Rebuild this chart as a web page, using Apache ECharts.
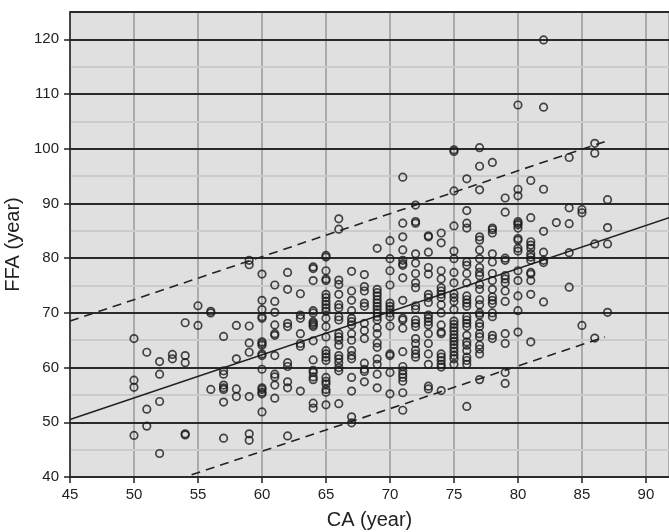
<!DOCTYPE html>
<html>
<head>
<meta charset="utf-8">
<script src="https://cdn.jsdelivr.net/npm/echarts@6/dist/echarts.min.js"></script>
<style>
  html, body { margin: 0; padding: 0; background: #fff; }
  #main { width: 669px; height: 532px; }
</style>
</head>
<body>
<div id="main"></div>
<script>
// CA (chronological age) columns and the FFA values read for each
const ca = [50, 51, 52, 53, 54, 55, 56, 57, 58, 59, 60, 61, 62, 63, 64, 65, 66, 67, 68, 69,
  70, 71, 72, 73, 74, 75, 76, 77, 78, 79, 80, 81, 82, 83, 84, 85, 86, 87];
const ffa = [
  [65.3, 57.7, 56.4, 47.6],
  [62.8, 52.4, 49.3],
  [61.1, 58.8, 53.8, 44.3],
  [62.4, 61.6],
  [68.2, 62.2, 60.9, 47.9, 47.7],
  [71.3, 67.7],
  [70.3, 70.0, 56.0],
  [65.7, 59.4, 58.8, 56.8, 56.3, 56.0, 53.7, 47.1],
  [67.7, 61.6, 56.1, 54.7],
  [79.6, 78.8, 67.6, 64.5, 62.8, 54.7, 47.9, 46.7],
  [77.1, 72.3, 70.6, 69.3, 69.0, 64.7, 64.4, 64.1, 62.5, 62.2, 59.7, 56.3, 56.0, 55.5, 55.2, 51.9],
  [75.1, 72.1, 70.1, 67.8, 66.2, 65.9, 62.2, 58.8, 58.3, 56.8, 54.4],
  [77.4, 74.3, 68.1, 67.5, 60.9, 60.2, 57.4, 56.3, 47.5],
  [73.5, 69.6, 69.0, 66.2, 64.4, 63.9, 55.7],
  [78.4, 78.1, 75.9, 70.4, 70.0, 68.4, 68.1, 67.8, 67.5, 64.9, 61.4, 59.5, 59.1, 58.3, 57.8, 53.5, 52.6],
  [80.5, 80.2, 77.7, 76.2, 75.9, 73.4, 72.8, 72.1, 71.5, 70.9, 70.3, 69.0, 67.5, 65.6, 63.1, 62.5, 61.9, 61.3, 58.2, 57.5, 57.0, 56.0, 55.5, 53.2],
  [87.2, 85.3, 76.0, 75.2, 73.4, 71.5, 70.9, 69.3, 68.7, 66.2, 65.6, 65.0, 64.1, 62.2, 61.6, 60.9, 60.0, 59.4, 53.4],
  [77.6, 74.0, 72.3, 70.4, 69.0, 68.4, 67.8, 66.2, 65.0, 63.1, 62.2, 61.6, 58.2, 55.7, 51.0, 49.9],
  [77.0, 74.8, 74.0, 71.8, 71.2, 68.1, 66.8, 65.3, 60.8, 59.7, 59.3, 57.4],
  [81.8, 74.3, 73.7, 73.1, 72.4, 71.8, 71.2, 70.6, 70.0, 69.3, 68.7, 67.3, 66.2, 64.5, 63.7, 61.6, 60.6, 58.8, 56.3],
  [83.2, 79.9, 77.7, 75.1, 71.8, 71.2, 70.6, 70.0, 69.3, 67.6, 62.5, 62.2, 59.1, 55.2],
  [94.8, 86.4, 83.9, 81.5, 79.6, 79.0, 78.7, 76.4, 72.3, 69.0, 68.7, 67.2, 62.9, 60.2, 59.4, 58.8, 58.2, 57.5, 55.4, 52.2],
  [89.7, 86.7, 86.4, 80.8, 79.1, 77.2, 75.5, 74.6, 71.3, 70.7, 68.7, 68.1, 67.5, 65.3, 64.4, 63.2, 62.5, 61.9],
  [84.1, 83.9, 81.1, 78.3, 77.1, 73.4, 72.8, 71.9, 69.6, 69.0, 68.4, 67.8, 66.2, 64.4, 62.5, 60.6, 56.6, 56.1],
  [84.6, 82.8, 77.7, 76.2, 74.6, 74.0, 73.4, 72.8, 71.5, 70.0, 67.8, 66.5, 66.2, 62.5, 61.9, 61.3, 60.6, 60.1, 55.8],
  [99.8, 99.5, 92.3, 85.9, 81.3, 79.9, 77.4, 75.5, 73.5, 72.8, 72.1, 70.6, 68.5, 67.9, 67.3, 66.7, 66.0, 65.4, 64.8, 64.2, 63.6, 62.9, 62.2, 61.6, 60.6],
  [94.5, 88.7, 86.4, 85.5, 79.3, 78.7, 77.2, 75.5, 73.1, 72.4, 71.8, 71.2, 69.3, 68.7, 68.1, 67.5, 65.9, 64.7, 64.1, 63.1, 61.9, 61.3, 60.6, 52.9],
  [100.2, 96.8, 92.5, 83.9, 83.3, 81.5, 79.9, 78.3, 77.4, 76.8, 75.2, 74.3, 72.4, 71.5, 70.0, 69.6, 68.1, 67.5, 66.2, 65.6, 64.1, 63.4, 62.5, 57.8],
  [97.5, 85.5, 85.2, 84.6, 80.8, 79.3, 77.2, 75.9, 74.3, 72.9, 72.3, 71.7, 70.0, 69.3, 65.9, 65.3],
  [91.0, 88.4, 80.0, 79.6, 76.8, 76.2, 75.5, 74.0, 72.1, 66.2, 64.4, 59.1, 57.1],
  [108.0, 92.6, 91.4, 86.7, 86.4, 86.1, 85.5, 83.6, 83.3, 81.8, 81.3, 77.7, 75.9, 73.1, 70.4, 66.5],
  [94.2, 87.4, 83.0, 82.4, 81.8, 80.8, 80.2, 79.6, 77.4, 77.1, 75.9, 73.4, 64.7],
  [119.9, 107.6, 92.6, 84.9, 81.1, 79.6, 79.2, 72.0],
  [86.5],
  [98.4, 89.2, 86.3, 81.0, 74.7],
  [88.9, 88.3, 67.7],
  [101.0, 99.2, 82.6, 65.4],
  [90.7, 85.6, 82.6, 70.1]
];

// regression line and prediction bounds (end points)
const fitX = [45, 91.8];
const fitY = [50.5, 87.4];
const upperX = [45, 86.9];
const upperY = [68.5, 101.4];
const lowerX = [54.5, 86.8];
const lowerY = [40.4, 65.6];

var points = [];
ca.forEach(function (age, i) {
  ffa[i].forEach(function (v) {
    points.push([age, v]);
  });
});

function pairs(xs, ys) {
  return xs.map(function (x, i) { return [x, ys[i]]; });
}

var chart = echarts.init(document.getElementById('main'));
var font = 'Liberation Sans, Arial, sans-serif';

var option = {
  backgroundColor: '#fff',
  animation: false,
  grid: {
    left: 70, top: 12, right: 0, bottom: 55,
    show: true,
    backgroundColor: '#e0e0e0',
    borderColor: '#2a2a2a',
    borderWidth: 1.5,
    outerBoundsMode: 'none'
  },
  xAxis: {
    type: 'value',
    min: 45, max: 91.8, interval: 5,
    name: 'CA (year)',
    nameLocation: 'middle',
    nameGap: 33,
    nameTextStyle: { fontFamily: font, fontSize: 20, color: '#222' },
    axisLine: { show: true, lineStyle: { color: '#222', width: 1.5 } },
    axisTick: { show: true, length: 6, lineStyle: { color: '#222', width: 1.5 } },
    axisLabel: { fontFamily: font, fontSize: 15, color: '#222', margin: 10, showMaxLabel: false },
    splitLine: { show: true, lineStyle: { color: '#ababab', width: 2 } }
  },
  yAxis: [{
    type: 'value',
    min: 40, max: 125, interval: 10,
    name: 'FFA (year)',
    nameLocation: 'middle',
    nameGap: 33,
    nameTextStyle: { fontFamily: font, fontSize: 20, color: '#222' },
    axisLine: { show: true, lineStyle: { color: '#222', width: 1.5 } },
    axisTick: { show: true, length: 6, lineStyle: { color: '#222', width: 1.5 } },
    axisLabel: { fontFamily: font, fontSize: 15, color: '#222', margin: 11, showMaxLabel: false },
    splitLine: { show: true, lineStyle: { color: '#2a2a2a', width: 2 } },
    z: 2
  }, {
    // lighter 5-year lines underneath
    type: 'value',
    min: 40, max: 125, interval: 5,
    axisLine: { show: false },
    axisTick: { show: false },
    axisLabel: { show: false },
    splitLine: { show: true, lineStyle: { color: '#cbcbcb', width: 2 } },
    z: 1
  }],
  series: [{
    type: 'scatter',
    data: points,
    symbol: 'circle',
    symbolSize: 7.5,
    itemStyle: { color: 'rgba(0,0,0,0)', borderColor: '#1a1a1a', borderWidth: 1.7 },
    z: 5
  }, {
    type: 'line',
    data: pairs(fitX, fitY),
    symbol: 'none',
    lineStyle: { color: '#222', width: 1.5 },
    z: 4
  }, {
    type: 'line',
    data: pairs(upperX, upperY),
    symbol: 'none',
    lineStyle: { color: '#222', width: 1.6, type: [9, 6] },
    z: 4
  }, {
    type: 'line',
    data: pairs(lowerX, lowerY),
    symbol: 'none',
    lineStyle: { color: '#222', width: 1.6, type: [9, 6] },
    z: 4
  }]
};

chart.setOption(option);
</script>
</body>
</html>
